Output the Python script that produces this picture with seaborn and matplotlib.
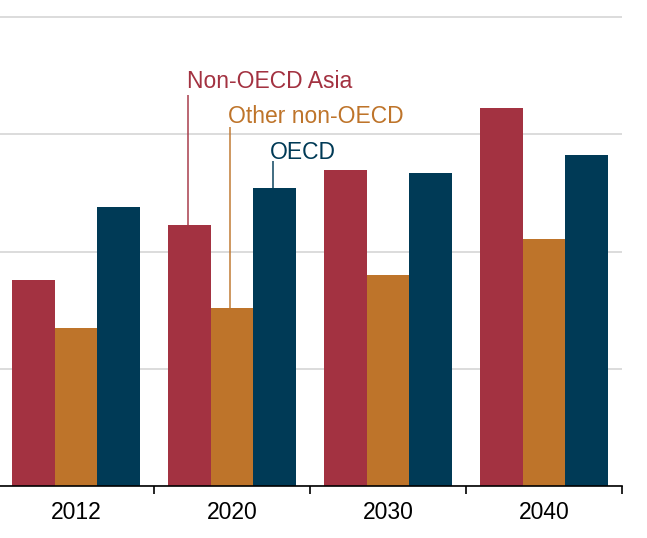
import matplotlib
matplotlib.use("Agg")
import matplotlib.pyplot as plt
import seaborn as sns
import pandas as pd

years = ["2012", "2020", "2030", "2040"]
regions = ["Non-OECD Asia", "Other non-OECD", "OECD"]
non_oecd_asia = [87.8, 111.3, 134.8, 161.2]
other_non_oecd = [67.4, 75.9, 90.0, 105.3]
oecd = [119.0, 127.1, 133.5, 141.2]
colors = ["#A33241", "#BE742A", "#003A56"]
label_colors = ["#A33241", "#BE742A", "#003A56"]

rows = []
for reg, vals in zip(regions, [non_oecd_asia, other_non_oecd, oecd]):
    for y, v in zip(years, vals):
        rows.append({"year": y, "region": reg, "value": v})
df = pd.DataFrame(rows)

sns.set_theme(style="white")
plt.rcParams["font.family"] = ["Liberation Sans", "DejaVu Sans"]

W, H = 647, 538
fig = plt.figure(figsize=(W / 100, H / 100), dpi=100)
ax = fig.add_axes([-2 / W, (H - 486) / H, 624 / W, (486 - 10) / H])

sns.barplot(data=df, x="year", y="value", hue="region", hue_order=regions,
            order=years, palette=colors, width=0.82, gap=0, saturation=1,
            legend=False, linewidth=0, edgecolor="none", ax=ax)

ax.set_xlim(-0.5, 3.5)
ax.set_ylim(0, 203)
ax.set_yticks([0, 50, 100, 150, 200])
ax.set_yticklabels([])
ax.tick_params(axis="y", length=0)
ax.grid(axis="y", color="#D9D9D9", linewidth=1.3)
ax.set_axisbelow(True)
ax.set_xlabel("")
ax.set_ylabel("")
for s in ["left", "right", "top"]:
    ax.spines[s].set_visible(False)
ax.spines["bottom"].set_color("black")
ax.spines["bottom"].set_linewidth(1.2)

ax.set_xticks(range(len(years)))
ax.set_xticklabels(years, fontsize=16.5, color="black")
ax.tick_params(axis="x", which="major", length=0, pad=10.5)
ax.set_xticks([0.5, 1.5, 2.5, 3.5], minor=True)
ax.tick_params(axis="x", which="minor", bottom=True, length=6, width=1.2,
               color="black", direction="out")

# annotations on the 2020 group
text_y = [169.7, 154.8, 139.5]
line_top = [166.7, 153.3, 138.8]
text_dx = [-0.005, -0.013, -0.022]
for i, reg in enumerate(regions):
    bar = ax.containers[i][1]
    xc = bar.get_x() + bar.get_width() / 2 - 0.01
    ax.plot([xc, xc], [bar.get_height(), line_top[i]], color=label_colors[i],
            linewidth=1.3, alpha=0.8, solid_capstyle="butt")
    ax.text(xc + text_dx[i], text_y[i], reg, color=label_colors[i],
            fontsize=16.5, ha="left", va="baseline")

fig.savefig("out.png", dpi=100)
